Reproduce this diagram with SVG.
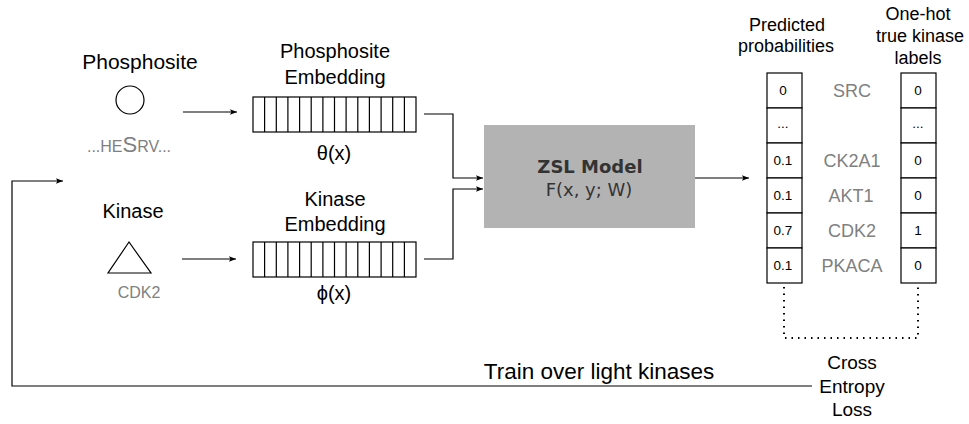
<svg xmlns="http://www.w3.org/2000/svg" width="969" height="424" viewBox="0 0 969 424">
<style>
text{font-family:"Liberation Sans",Arial,sans-serif;fill:#000}
.lbl{font-size:20px;text-anchor:middle}
.gr{fill:#808080}
.kn{font-size:18px;text-anchor:middle;fill:#808080}
.cv{font-size:13.5px;text-anchor:middle}
.hd{font-size:18px;text-anchor:middle}
.ln{fill:none;stroke:#000;stroke-width:1.2}
.cell{fill:#fff;stroke:#000;stroke-width:1.2}
</style>
<defs>
<marker id="ah" viewBox="0 0 10 10" refX="10" refY="5" markerWidth="7" markerHeight="7" markerUnits="userSpaceOnUse" orient="auto">
<path d="M0,1 L10,5 L0,9 L2,5 Z" fill="#000"/>
</marker>
</defs>
<rect width="969" height="424" fill="#fff"/>

<g id="phosphosite">
<text class="lbl" x="140" y="69" style="font-size:21px">Phosphosite</text>
<circle cx="130" cy="100" r="14" fill="#fff" stroke="#000" stroke-width="1.2"/>
<text x="129" y="152" text-anchor="middle" class="gr" style="font-size:16px"><tspan>...HE</tspan><tspan style="font-size:22px">S</tspan><tspan>RV...</tspan></text>
</g>

<g id="kinase">
<text class="lbl" x="133" y="218">Kinase</text>
<path d="M129,242 L108,273 L151,273 Z" fill="#fff" stroke="#000" stroke-width="1.2"/>
<text x="139" y="298" text-anchor="middle" class="gr" style="font-size:16px">CDK2</text>
</g>

<g id="phos-embedding">
<text class="lbl" x="335" y="58">Phosphosite</text>
<text class="lbl" x="335" y="84">Embedding</text>
<rect class="cell" x="253" y="97" width="163" height="35"/>
<path class="ln" d="M264.6,97V132M276.3,97V132M287.9,97V132M299.6,97V132M311.2,97V132M322.9,97V132M334.5,97V132M346.1,97V132M357.8,97V132M369.4,97V132M381.1,97V132M392.7,97V132M404.4,97V132"/>
<text class="lbl" x="334" y="160">θ(x)</text>
</g>

<g id="kin-embedding">
<text class="lbl" x="335" y="206">Kinase</text>
<text class="lbl" x="335" y="231">Embedding</text>
<rect class="cell" x="253" y="242" width="163" height="35"/>
<path class="ln" d="M264.6,242V277M276.3,242V277M287.9,242V277M299.6,242V277M311.2,242V277M322.9,242V277M334.5,242V277M346.1,242V277M357.8,242V277M369.4,242V277M381.1,242V277M392.7,242V277M404.4,242V277"/>
<text class="lbl" x="334" y="300">ϕ(x)</text>
</g>

<g id="zsl-model">
<rect x="484" y="125" width="211" height="103" fill="#b3b3b3"/>
<text x="590" y="173" text-anchor="middle" style="font-family:'DejaVu Sans',Verdana,sans-serif;font-size:18px;font-weight:bold;fill:#333">ZSL Model</text>
<text x="589" y="196" text-anchor="middle" style="font-family:'DejaVu Sans',Verdana,sans-serif;font-size:18px;fill:#333">F(x, y; W)</text>
</g>

<g id="predicted">
<text class="hd" x="787" y="31">Predicted</text>
<text class="hd" x="786" y="52">probabilities</text>
<rect class="cell" x="767" y="73" width="35" height="35"/>
<rect class="cell" x="767" y="108" width="35" height="35"/>
<rect class="cell" x="767" y="143" width="35" height="35"/>
<rect class="cell" x="767" y="178" width="35" height="35"/>
<rect class="cell" x="767" y="213" width="35" height="35"/>
<rect class="cell" x="767" y="248" width="35" height="35"/>
<text class="cv" x="783" y="95">0</text>
<text class="cv" x="783" y="128">...</text>
<text class="cv" x="783" y="165">0.1</text>
<text class="cv" x="783" y="200">0.1</text>
<text class="cv" x="783" y="235">0.7</text>
<text class="cv" x="783" y="270">0.1</text>
</g>

<g id="kinase-names">
<text class="kn" x="852" y="97">SRC</text>
<text class="kn" x="852" y="167">CK2A1</text>
<text class="kn" x="851" y="202">AKT1</text>
<text class="kn" x="852" y="237">CDK2</text>
<text class="kn" x="852" y="272">PKACA</text>
</g>

<g id="one-hot">
<text class="hd" x="918" y="20">One-hot</text>
<text class="hd" x="920" y="42">true kinase</text>
<text class="hd" x="918" y="64">labels</text>
<rect class="cell" x="901" y="73" width="35" height="35"/>
<rect class="cell" x="901" y="108" width="35" height="35"/>
<rect class="cell" x="901" y="143" width="35" height="35"/>
<rect class="cell" x="901" y="178" width="35" height="35"/>
<rect class="cell" x="901" y="213" width="35" height="35"/>
<rect class="cell" x="901" y="248" width="35" height="35"/>
<text class="cv" x="918" y="95">0</text>
<text class="cv" x="918" y="128">...</text>
<text class="cv" x="918" y="165">0</text>
<text class="cv" x="918" y="200">0</text>
<text class="cv" x="918" y="235">1</text>
<text class="cv" x="918" y="270">0</text>
</g>

<g id="loss">
<text x="852" y="369" text-anchor="middle" style="font-size:19px">Cross</text>
<text x="852" y="393" text-anchor="middle" style="font-size:19px">Entropy</text>
<text x="852" y="416" text-anchor="middle" style="font-size:19px">Loss</text>
</g>

<g id="train-label">
<text x="599" y="379" text-anchor="middle" style="font-size:22.5px">Train over light kinases</text>
</g>

<g id="connectors">
<path class="ln" d="M183,112H237" marker-end="url(#ah)"/>
<path class="ln" d="M182,259H236" marker-end="url(#ah)"/>
<path class="ln" d="M424,114H453V178H483" marker-end="url(#ah)"/>
<path class="ln" d="M424,259H453V189H483" marker-end="url(#ah)"/>
<path class="ln" d="M695,178H749" marker-end="url(#ah)"/>
<path class="ln" d="M812,386H12V181H63" marker-end="url(#ah)"/>
<path d="M784,287V338H918V287" fill="none" stroke="#000" stroke-width="2" stroke-dasharray="1.5 5"/>
</g>
</svg>
